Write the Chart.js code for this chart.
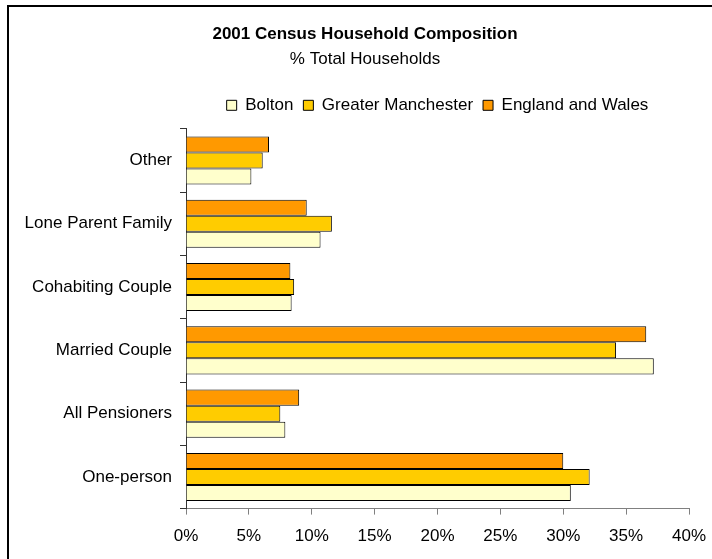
<!DOCTYPE html>
<html>
<head>
<meta charset="utf-8">
<title>2001 Census Household Composition</title>
<script src="https://cdn.jsdelivr.net/npm/chart.js@4"></script>
<style>
    html, body { margin: 0; padding: 0; background: #fff; }
    #wrap { position: relative; width: 712px; height: 559px; }
</style>
</head>
<body>
<div id="wrap"><canvas id="householdChart"></canvas></div>
<script>
// Household types, listed top to bottom
const categories = ['Other', 'Lone Parent Family', 'Cohabiting Couple', 'Married Couple', 'All Pensioners', 'One-person'];

// % of all households
const boltonValues = [5.2, 10.7, 8.4, 37.2, 7.9, 30.6];
const manchesterValues = [6.1, 11.6, 8.6, 34.2, 7.5, 32.1];
const englandWalesValues = [6.6, 9.6, 8.3, 36.6, 9.0, 30.0];

const xTicks = [0, 5, 10, 15, 20, 25, 30, 35, 40];

const FONT = "'Liberation Sans', Arial, sans-serif";

// outer frame around the whole chart
const framePlugin = {
    id: 'frame',
    afterDraw(chart) {
        const ctx = chart.ctx;
        ctx.save();
        ctx.strokeStyle = '#000';
        ctx.lineWidth = 2;
        ctx.strokeRect(8, 6, 800, 700);
        ctx.restore();
    }
};

// legend: extra space under it, and centred over the plot area
const legendTweaks = {
    id: 'legendTweaks',
    afterInit(chart) {
        const legend = chart.legend;
        if (!legend) return;
        const fit = legend.fit.bind(legend);
        legend.fit = function () {
            fit();
            this.height += 5;
        };
    },
    afterLayout(chart) {
        if (chart.legend) {
            chart.legend.left = chart.chartArea.left;
            chart.legend.right = chart.chartArea.right;
        }
    }
};

let householdChart = null;

function initHouseholdChart() {
    const ctx = document.getElementById('householdChart');
    if (!ctx) return;
    if (householdChart) {
        householdChart.destroy();
    }

    householdChart = new Chart(ctx, {
        type: 'bar',
        data: {
            labels: categories,
            datasets: [
                {
                    label: 'England and Wales',
                    data: englandWalesValues,
                    backgroundColor: '#FF9900',
                    borderColor: '#000',
                    borderWidth: 1
                },
                {
                    label: 'Greater Manchester',
                    data: manchesterValues,
                    backgroundColor: '#FFCC00',
                    borderColor: '#000',
                    borderWidth: 1
                },
                {
                    label: 'Bolton',
                    data: boltonValues,
                    backgroundColor: '#FFFFCC',
                    borderColor: '#000',
                    borderWidth: 1
                }
            ]
        },
        options: {
            indexAxis: 'y',
            responsive: true,
            maintainAspectRatio: false,
            animation: false,
            categoryPercentage: 0.76,
            barPercentage: 1.0,
            layout: {
                padding: { left: 24, right: 6, top: 18, bottom: 0 }
            },
            plugins: {
                title: {
                    display: true,
                    text: '2001 Census Household Composition',
                    color: '#000',
                    font: { family: FONT, size: 17, weight: 'bold' },
                    padding: { top: 6, bottom: 5 }
                },
                subtitle: {
                    display: true,
                    text: '% Total Households',
                    color: '#000',
                    font: { family: FONT, size: 17 },
                    padding: { top: 0, bottom: 17 }
                },
                legend: {
                    reverse: true,
                    labels: {
                        boxWidth: 10,
                        boxHeight: 10,
                        padding: 10,
                        color: '#000',
                        font: { family: FONT, size: 17 }
                    }
                },
                tooltip: { enabled: false }
            },
            scales: {
                x: {
                    min: 0,
                    max: 40,
                    afterBuildTicks(scale) {
                        scale.ticks = xTicks.map(v => ({ value: v }));
                    },
                    afterFit(scale) {
                        // room for the half of the last tick label only
                        scale.paddingLeft = 0;
                        scale.paddingRight = 23;
                    },
                    border: { color: '#808080', width: 1 },
                    grid: {
                        drawOnChartArea: false,
                        drawTicks: true,
                        tickLength: 6,
                        color: '#808080'
                    },
                    ticks: {
                        padding: 12,
                        color: '#000',
                        font: { family: FONT, size: 17 },
                        callback: v => v + '%'
                    }
                },
                y: {
                    afterFit(scale) {
                        scale.width = 162;
                    },
                    border: { color: '#333', width: 1 },
                    grid: {
                        drawOnChartArea: false,
                        drawTicks: true,
                        tickLength: 6,
                        offset: true,
                        color: '#333'
                    },
                    ticks: {
                        padding: 8,
                        color: '#000',
                        font: { family: FONT, size: 17 }
                    }
                }
            }
        },
        plugins: [framePlugin, legendTweaks]
    });
}

initHouseholdChart();
</script>
</body>
</html>
